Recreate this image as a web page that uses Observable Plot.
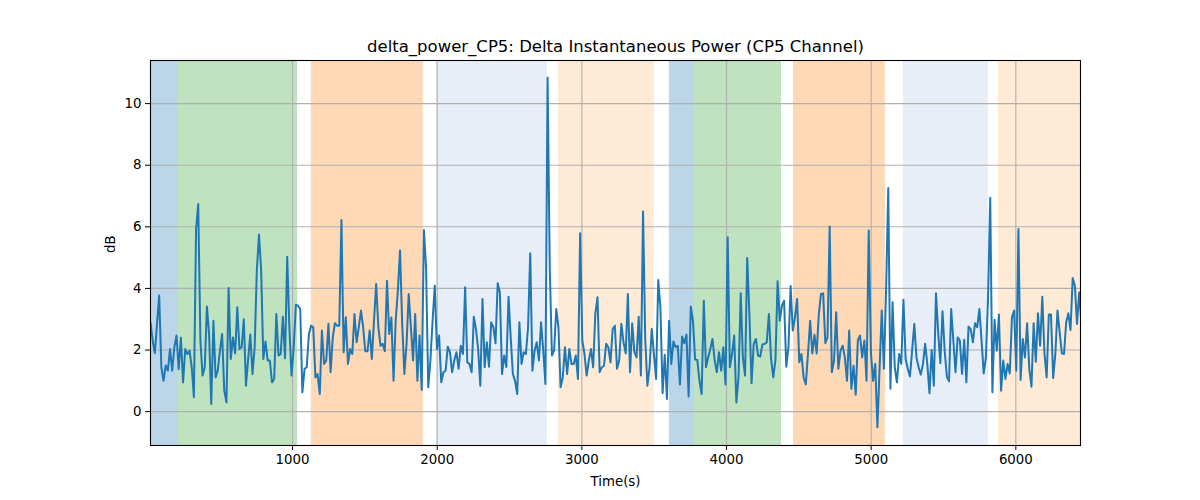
<!DOCTYPE html>
<html>
<head>
<meta charset="utf-8">
<script src="https://cdn.jsdelivr.net/npm/d3@7"></script>
<script src="https://cdn.jsdelivr.net/npm/@observablehq/plot@0.6"></script>
<style>
  html, body { margin: 0; padding: 0; background: white; }
  #chart { width: 1200px; height: 500px; }
</style>
</head>
<body>
<div id="chart"></div>
<script>
const titleText = "delta_power_CP5: Delta Instantaneous Power (CP5 Channel)";
const xLabel = "Time(s)";
const yLabel = "dB";

const timeStart = 18;   // first sample time (s)
const timeStep = 15;    // sampling interval (s)

const values = [
  2.9,2.3,1.9,2.85,3.77,1.44,1.0,1.5,1.33,2.03,1.33,2.1,2.47,1.38,2.4,0.95,2.03,1.87,1.98,1.44,0.47,5.93,6.74,2.3,1.17,1.44,3.41,2.52,0.25,2.95,1.11,1.33,1.98,2.52,0.68,0.3,4.01,1.71,2.41,1.89,3.39,2.03,2.09,3.0,0.84,1.71,2.5,1.22,2.09,4.58,5.75,4.58,1.71,
  2.28,1.66,1.66,0.95,1.06,3.17,1.82,1.87,3.08,1.73,5.03,2.74,1.17,2.09,3.47,3.44,3.33,0.63,1.39,1.44,2.52,2.79,2.74,1.11,1.22,0.57,2.63,1.55,1.66,2.85,1.28,2.41,2.87,2.79,2.79,6.22,1.93,3.06,1.55,2.03,1.87,3.17,2.25,2.74,3.28,2.74,1.96,1.96,2.63,1.71,2.95,4.14,2.74,2.14,2.2,1.96,
  4.25,2.52,3.06,1.0,2.95,3.93,5.23,2.85,1.22,2.2,3.82,2.74,1.66,3.17,1.0,2.47,0.7,5.9,4.69,0.79,1.66,2.95,4.09,2.03,2.47,0.95,1.28,1.33,2.11,1.93,1.28,1.66,1.93,1.39,2.14,1.87,4.04,1.6,1.55,1.28,3.08,2.68,2.03,0.84,3.66,1.44,2.25,1.46,2.9,2.74,2.22,4.17,3.87,1.22,1.82,
  1.45,3.73,2.41,1.22,1.0,0.57,2.9,1.55,1.93,1.87,2.74,5.14,1.33,1.98,2.25,1.66,2.9,1.98,0.9,10.85,4.69,1.82,1.98,3.33,2.74,0.79,1.11,2.09,1.22,2.03,1.55,1.55,1.82,1.06,5.79,2.31,1.87,1.17,1.66,2.03,1.44,3.17,3.71,1.28,1.44,1.49,2.2,2.09,1.6,2.68,2.79,1.39,1.66,2.85,2.25,1.89,
  3.82,1.28,2.87,1.93,1.76,3.08,1.17,6.5,2.36,0.84,1.44,2.68,1.87,1.06,4.27,3.39,0.6,1.85,0.41,2.95,1.55,2.28,2.09,2.14,0.88,2.44,2.22,2.5,0.49,3.41,2.95,1.69,1.68,1.0,0.57,3.6,1.44,1.76,2.03,2.36,1.66,1.28,1.93,1.33,2.09,0.88,5.66,1.44,1.87,2.47,0.3,1.11,3.84,1.76,1.17,
  4.99,3.17,0.92,2.2,2.36,1.82,1.79,2.18,2.2,2.25,3.17,1.71,1.11,1.66,4.23,2.95,3.44,3.6,1.46,2.09,4.08,2.63,3.06,3.66,1.6,1.87,1.11,0.88,1.87,2.95,1.89,2.5,1.89,3.17,3.82,3.84,2.22,2.41,6.01,1.28,1.66,3.23,1.39,1.98,2.14,1.76,1.0,2.63,0.74,1.49,0.55,2.33,2.47,1.76,2.31,
  1.0,5.88,1.93,1.0,1.55,-0.51,1.4,3.28,1.39,3.93,7.26,0.74,3.55,1.44,0.95,1.87,1.55,3.63,1.71,1.39,1.14,1.98,2.85,1.76,1.44,1.2,1.55,2.2,1.55,0.6,2.0,0.84,3.84,2.58,1.57,3.26,1.98,1.14,0.98,3.33,2.31,1.28,2.41,2.31,1.22,2.33,0.95,2.76,2.68,2.25,2.87,2.74,3.33,2.31,1.24,1.76,
  3.71,6.94,0.63,2.98,1.98,3.15,0.68,1.66,1.06,1.55,1.24,3.06,3.28,1.33,5.93,1.03,2.36,1.76,2.87,1.39,0.81,2.87,1.62,3.19,2.14,3.73,1.87,1.11,3.15,3.15,1.09,1.87,3.28,2.58,1.89,1.87,2.9,3.19,2.65,4.34,4.09,2.85,3.87,2.9
];

const spanStarts = [18, 212, 1129, 1994, 2837, 3605, 3778, 4463, 5223, 5880];
const spanEnds   = [212, 1035, 1904, 2761, 3501, 3778, 4380, 5098, 5811, 6447];
const spanColors = ["#1f77b4", "#2ca02c", "#ff7f0e", "#aec7e8", "#ffbb78",
                    "#1f77b4", "#2ca02c", "#ff7f0e", "#aec7e8", "#ffbb78"];

const xTicks = [1000, 2000, 3000, 4000, 5000, 6000];
const yTicks = [0, 2, 4, 6, 8, 10];
const xDomain = [18, 6447];
const yDomain = [-1.1, 11.4];

const series = values.map((v, i) => ({t: timeStart + i * timeStep, v}));
const spans = spanStarts.map((s, i) => ({start: s, end: spanEnds[i], color: spanColors[i]}));

const font = "DejaVu Sans, sans-serif";

const chart = Plot.plot({
  width: 1200,
  height: 500,
  marginLeft: 150,
  marginRight: 120,
  marginTop: 60,
  marginBottom: 55,
  style: {fontFamily: font, fontSize: "13.33px", background: "white", color: "black", overflow: "visible"},
  x: {domain: xDomain, label: null},
  y: {domain: yDomain, label: null},
  color: {type: "identity"},
  marks: [
    Plot.rect(spans, {x1: "start", x2: "end", fill: "color", fillOpacity: 0.3, clip: true}),
    Plot.gridX(xTicks, {stroke: "#b0b0b0", strokeOpacity: 1, strokeWidth: 1.1}),
    Plot.gridY(yTicks, {stroke: "#b0b0b0", strokeOpacity: 1, strokeWidth: 1.1}),
    Plot.line(series, {x: "t", y: "v", stroke: "#1f77b4", strokeWidth: 2, clip: true}),
    Plot.frame({stroke: "black", strokeWidth: 1.1}),
    Plot.axisX(xTicks, {tickSize: 5, tickPadding: 4, fontSize: 13.33, label: null, tickFormat: d => String(d)}),
    Plot.axisY(yTicks, {tickSize: 5, tickPadding: 4, fontSize: 13.33, label: null, tickFormat: d => String(d)}),
    Plot.text([titleText], {frameAnchor: "top", dy: -14, lineAnchor: "middle", fontSize: 16.5, fill: "black"}),
    Plot.text([xLabel], {frameAnchor: "bottom", dy: 36, lineAnchor: "middle", fontSize: 13.33, fill: "black"}),
    Plot.text([yLabel], {frameAnchor: "left", dx: -40, rotate: -90, lineAnchor: "middle", fontSize: 13.33, fill: "black"})
  ]
});

document.getElementById("chart").appendChild(chart);
</script>
</body>
</html>
